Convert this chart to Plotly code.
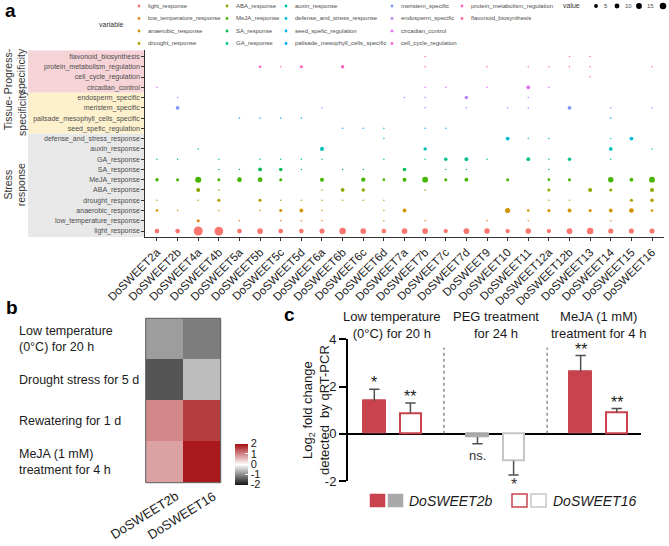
import math
import plotly.graph_objects as go

W, H = 669, 546
def px_x(p): return p / W
def px_y(p): return 1 - p / H

FONT = "Liberation Sans, Arial, Helvetica, sans-serif"

# ---------------- panel a data ----------------
genes = ["DoSWEET2a", "DoSWEET2b", "DoSWEET4a", "DoSWEET4b", "DoSWEET5a", "DoSWEET5b",
         "DoSWEET5c", "DoSWEET5d", "DoSWEET6a", "DoSWEET6b", "DoSWEET6c", "DoSWEET6d",
         "DoSWEET7a", "DoSWEET7b", "DoSWEET7c", "DoSWEET7d", "DoSWEET9", "DoSWEET10",
         "DoSWEET11", "DoSWEET12a", "DoSWEET12b", "DoSWEET13", "DoSWEET14", "DoSWEET15",
         "DoSWEET16"]

variables = ["light_response", "low_temperature_response", "anaerobic_response",
             "drought_response", "ABA_response", "MeJA_response", "SA_response",
             "GA_response", "auxin_response", "defense_and_stress_response",
             "seed_spefic_regulation", "palisade_mesophyll_cells_specific",
             "meristem_specific", "endosperm_specific", "circadian_control",
             "cell_cycle_regulation", "protein_metabolism_regulation",
             "flavonoid_biosynthesis"]

light_response =                    [9, 9, 44, 42, 9, 15, 9, 9, 11, 20, 15, 9, 15, 15, 7, 15, 13, 7, 13, 7, 15, 20, 11, 11, 11]
low_temperature_response =          [0, 0, 3, 0, 1, 0, 1, 1, 1, 0, 0, 1, 0, 1, 0, 0, 1, 0, 1, 0, 0, 0, 1, 0, 0]
anaerobic_response =                [2, 1, 0, 1, 0, 1, 3, 5, 1, 0, 0, 1, 5, 0, 0, 0, 0, 11, 2, 3, 5, 3, 5, 9, 2]
drought_response =                  [1, 0, 1, 3, 0, 3, 1, 1, 1, 1, 1, 1, 0, 0, 0, 0, 0, 0, 0, 1, 1, 0, 0, 3, 4]
ABA_response =                      [0, 0, 6, 1, 0, 0, 0, 0, 1, 5, 4, 0, 0, 1, 0, 0, 0, 0, 0, 3, 0, 6, 3, 0, 6]
MeJA_response =                     [4, 3, 17, 3, 9, 9, 3, 0, 6, 0, 7, 2, 6, 15, 3, 5, 0, 3, 0, 2, 3, 0, 13, 5, 15]
SA_response =                       [0, 0, 0, 1, 1, 5, 4, 1, 0, 1, 1, 0, 4, 0, 1, 1, 0, 0, 0, 1, 0, 0, 0, 0, 0]
GA_response =                       [1, 1, 0, 1, 0, 1, 1, 1, 1, 0, 0, 1, 0, 1, 4, 5, 1, 0, 5, 1, 4, 0, 1, 0, 0]
auxin_response =                    [0, 0, 1, 0, 0, 0, 0, 0, 6, 0, 0, 0, 0, 4, 0, 0, 0, 0, 0, 0, 0, 0, 5, 0, 1]
defense_and_stress_response =       [0, 0, 0, 0, 0, 0, 0, 0, 0, 0, 0, 1, 0, 0, 0, 0, 0, 5, 1, 1, 0, 0, 1, 5, 0]
seed_spefic_regulation =            [0, 0, 0, 0, 0, 0, 0, 0, 0, 1, 1, 1, 0, 1, 1, 0, 0, 0, 0, 0, 0, 0, 0, 0, 0]
palisade_mesophyll_cells_specific = [0, 0, 0, 0, 1, 1, 1, 1, 0, 0, 0, 0, 0, 0, 0, 0, 0, 0, 0, 0, 0, 0, 1, 0, 0]
meristem_specific =                 [0, 5, 0, 0, 0, 0, 0, 0, 1, 0, 0, 0, 0, 1, 0, 1, 0, 1, 1, 0, 5, 0, 1, 0, 1]
endosperm_specific =                [0, 1, 0, 0, 0, 0, 0, 0, 0, 0, 0, 0, 1, 1, 0, 4, 0, 0, 1, 0, 0, 0, 0, 0, 0]
circadian_control =                 [1, 0, 0, 0, 0, 0, 0, 0, 0, 0, 0, 0, 0, 1, 1, 0, 1, 0, 5, 1, 0, 0, 0, 0, 0]
cell_cycle_regulation =             [0, 0, 0, 0, 0, 0, 0, 0, 0, 0, 0, 0, 0, 0, 0, 0, 0, 0, 0, 0, 0, 1, 0, 0, 0]
protein_metabolism_regulation =     [0, 0, 0, 0, 0, 2, 1, 3, 0, 4, 0, 0, 0, 1, 0, 0, 1, 0, 1, 1, 1, 1, 0, 0, 1]
flavonoid_biosynthesis =            [0, 0, 0, 0, 0, 0, 0, 0, 0, 0, 0, 0, 0, 1, 0, 0, 0, 0, 0, 0, 1, 1, 0, 0, 0]

var_values = [light_response, low_temperature_response, anaerobic_response, drought_response,
              ABA_response, MeJA_response, SA_response, GA_response, auxin_response,
              defense_and_stress_response, seed_spefic_regulation,
              palisade_mesophyll_cells_specific, meristem_specific, endosperm_specific,
              circadian_control, cell_cycle_regulation, protein_metabolism_regulation,
              flavonoid_biosynthesis]

var_colors = ["#F8766D", "#E7851E", "#D09400", "#B2A100", "#8AAB00", "#45B500", "#00BC51",
              "#00C08E", "#00C0B8", "#00BCD8", "#00B4EF", "#00A5FF", "#7F96FF", "#BC81FF",
              "#E26EF7", "#F863DF", "#FF62BF", "#FF6A9A"]

category_groups = ["Stress<br>response", "Tissue-<br>specificity", "Progress-<br>specificity"]
category_group_sizes = [10, 4, 4]
category_group_colors = ["#e8e8e8", "#fdf1cd", "#f5d3d7"]

size_legend_values = [5, 10, 15, 20]

# ---------------- panel b data ----------------
heat_genes = ["DoSWEET2b", "DoSWEET16"]
heat_conditions = ["Low temperature<br>(0°C) for 20 h", "Drought stress for 5 d",
                   "Rewatering for 1 d", "MeJA (1 mM)<br>treatment for 4 h"]
heat_z = [[-0.83, -1.11],
          [-1.45, -0.56],
          [1.00, 1.62],
          [0.78, 1.92]]
heat_ticks = [-2, -1, 0, 1, 2]

# ---------------- panel c data ----------------
bar_treatments = ["Low temperature<br>(0°C) for 20 h", "PEG treatment<br>for 24 h",
                  "MeJA (1 mM)<br>treatment for 4 h"]
fc_2b = [1.40, -0.14, 2.64]
err_2b = [0.48, 0.28, 0.67]
sig_2b = ["*", "ns.", "**"]
fc_16 = [0.86, -1.14, 0.90]
err_16 = [0.44, 0.61, 0.17]
sig_16 = ["**", "*", "**"]
bar_yticks = [-2, 0, 2, 4]

RED = "#c8434e"
GREY_FILL = "#a9a9a9"
GREY_LINE = "#c6c6c6"

fig = go.Figure()

# ---------------- panel a: bubble plot ----------------
allv = [v for vals in var_values for v in vals if v > 0]
vmin, vmax = min(allv), max(allv)
def dia(v):
    return 1.5 * (1 + 5 * math.sqrt((v - vmin) / (vmax - vmin)))

for name, vals, col in zip(variables, var_values, var_colors):
    xs = [g for g, v in zip(genes, vals) if v > 0]
    ss = [dia(v) for v in vals if v > 0]
    fig.add_trace(go.Scatter(x=xs, y=[name] * len(xs), mode="markers",
                             marker=dict(size=ss, color=col, line=dict(width=0), opacity=1),
                             xaxis="x", yaxis="y", hoverinfo="skip", showlegend=False))

shapes = []
annotations = []

# category bands behind y labels
lo = -0.6
for k, (label, n, colr) in enumerate(zip(category_groups, category_group_sizes,
                                         category_group_colors)):
    hi = (lo + 0.1 + n) if k == 0 else lo + n
    if k == len(category_groups) - 1:
        hi = len(variables) - 0.4
    shapes.append(dict(type="rect", xref="paper", yref="y", x0=px_x(28), x1=px_x(144.6),
                       y0=lo, y1=hi, fillcolor=colr, line=dict(width=0), layer="below"))
    annotations.append(dict(text=label, xref="paper", yref="y", x=px_x(15), y=(lo + hi) / 2,
                            textangle=-90, showarrow=False, xanchor="center", yanchor="middle",
                            font=dict(size=10.5, color="#333333", family=FONT)))
    lo = hi

# top legend ("variable")
annotations.append(dict(text="variable", xref="paper", yref="paper", x=px_x(97), y=px_y(25),
                        xanchor="left", yanchor="middle", showarrow=False,
                        font=dict(size=7, color="#333333", family=FONT)))
leg_col_x = [139, 227, 286, 392, 462]
leg_row_y = [6, 18.5, 31, 43.5]
for i, (name, col) in enumerate(zip(variables, var_colors)):
    cx, ry = leg_col_x[i // 4], leg_row_y[i % 4]
    shapes.append(dict(type="circle", xref="paper", yref="paper", xsizemode="pixel",
                       ysizemode="pixel", xanchor=px_x(cx), yanchor=px_y(ry),
                       x0=-1.4, x1=1.4, y0=-1.4, y1=1.4, fillcolor=col, line=dict(width=0)))
    annotations.append(dict(text=name, xref="paper", yref="paper", x=px_x(cx + 7), y=px_y(ry),
                            xanchor="left", yanchor="middle", showarrow=False,
                            font=dict(size=6, color="#4d4d4d", family=FONT)))
annotations.append(dict(text="value", xref="paper", yref="paper", x=px_x(561), y=px_y(6),
                        xanchor="left", yanchor="middle", showarrow=False,
                        font=dict(size=7, color="#333333", family=FONT)))
size_leg_x = [596, 617, 639, 663]
for sv, sx in zip(size_legend_values, size_leg_x):
    r = dia(sv) / 2
    shapes.append(dict(type="circle", xref="paper", yref="paper", xsizemode="pixel",
                       ysizemode="pixel", xanchor=px_x(sx), yanchor=px_y(6),
                       x0=-r, x1=r, y0=-r, y1=r, fillcolor="black", line=dict(width=0)))
    if sx + 8 < W:
        annotations.append(dict(text=str(sv), xref="paper", yref="paper", x=px_x(sx + 6),
                                y=px_y(6), xanchor="left", yanchor="middle", showarrow=False,
                                font=dict(size=6, color="#4d4d4d", family=FONT)))

# ---------------- panel b: heatmap ----------------
fig.add_trace(go.Heatmap(z=heat_z, x=heat_genes, y=heat_conditions, xaxis="x2", yaxis="y2",
                         zmin=-2, zmax=2,
                         colorscale=[[0, "#141414"], [0.5, "#ffffff"], [1, "#a50f12"]],
                         hoverinfo="skip",
                         colorbar=dict(x=px_x(235), xanchor="left", y=px_y(464),
                                       yanchor="middle", len=41, lenmode="pixels",
                                       thickness=13, xpad=0, ypad=0, outlinewidth=0,
                                       tickvals=heat_ticks,
                                       ticktext=[str(t) for t in heat_ticks],
                                       ticks="inside", ticklen=3, tickcolor="white",
                                       tickfont=dict(size=11, color="#1a1a1a", family=FONT))))
shapes.append(dict(type="rect", xref="paper", yref="paper", x0=px_x(145.7), x1=px_x(220.7),
                   y0=px_y(482.7), y1=px_y(318.3), line=dict(color="#555555", width=1)))
for cond in heat_conditions:
    annotations.append(dict(text=cond, xref="paper", yref="y2", x=px_x(17), y=cond,
                            xanchor="left", yanchor="middle", align="left", showarrow=False,
                            font=dict(size=12.5, color="#1a1a1a", family=FONT)))
for gi, g in enumerate(heat_genes):
    annotations.append(dict(text=g, xref="x2", yref="paper", x=gi, y=px_y(486),
                            xanchor="right", yanchor="top", xshift=19, textangle=-32,
                            showarrow=False, font=dict(size=13, color="#1a1a1a", family=FONT)))

# ---------------- panel c: bar chart ----------------
OFF, BW = 0.175, 0.22
xi = list(range(len(bar_treatments)))
x2b = [i - OFF for i in xi]
x16 = [i + OFF for i in xi]
is_peg = [t.startswith("PEG") for t in bar_treatments]
fill_2b = [GREY_FILL if p else RED for p in is_peg]
line_16 = [GREY_LINE if p else RED for p in is_peg]

fig.add_trace(go.Bar(x=x2b, y=fc_2b, width=BW, xaxis="x3", yaxis="y3",
                     marker=dict(color=fill_2b, line=dict(color=fill_2b, width=1)),
                     hoverinfo="skip", showlegend=False))
fig.add_trace(go.Bar(x=x16, y=fc_16, width=BW - 0.015, xaxis="x3", yaxis="y3",
                     marker=dict(color="white", line=dict(color=line_16, width=2)),
                     hoverinfo="skip", showlegend=False))

# one-sided error bars
CAP = 0.05
ex, ey = [], []
for xs, vs, es in ((x2b, fc_2b, err_2b), (x16, fc_16, err_16)):
    for x, v, e in zip(xs, vs, es):
        end = v + e if v >= 0 else v - e
        ex += [x, x, None, x - CAP, x + CAP, None]
        ey += [v, end, None, end, end, None]
fig.add_trace(go.Scatter(x=ex, y=ey, mode="lines", line=dict(color="#505050", width=1.5),
                         xaxis="x3", yaxis="y3", hoverinfo="skip", showlegend=False,
                         cliponaxis=False))

for xs, vs, es, ss in ((x2b, fc_2b, err_2b, sig_2b), (x16, fc_16, err_16, sig_16)):
    for x, v, e, s in zip(xs, vs, es, ss):
        if v >= 0:
            annotations.append(dict(text=s, xref="x3", yref="y3", x=x, y=v + e,
                                    yanchor="bottom", yshift=-4, showarrow=False,
                                    font=dict(size=16, color="#1a1a1a", family=FONT)))
        else:
            star = s.startswith("*")
            annotations.append(dict(text=s, xref="x3", yref="y3", x=x, y=v - e,
                                    yanchor="top", yshift=1 if star else -2, showarrow=False,
                                    font=dict(size=16 if star else 13, color="#333333",
                                              family=FONT)))

for i in xi[:-1]:
    shapes.append(dict(type="line", xref="x3", yref="y3", x0=i + 0.5, x1=i + 0.5,
                       y0=0, y1=3.65, line=dict(color="#555555", width=1, dash="dot")))
for i, t in zip(xi, bar_treatments):
    annotations.append(dict(text=t, xref="x3", yref="paper", x=i, y=px_y(325),
                            xanchor="center", yanchor="middle", showarrow=False,
                            font=dict(size=13, color="#1a1a1a", family=FONT)))
annotations.append(dict(text="Log<sub>2</sub> fold change<br>detected  by qRT-PCR",
                        xref="paper", yref="paper", x=px_x(316), y=px_y(410), textangle=-90,
                        showarrow=False, xanchor="center", yanchor="middle",
                        font=dict(size=13, color="#1a1a1a", family=FONT)))

# panel c legend
for x0, fc, lc in ((370, RED, RED), (388, GREY_FILL, GREY_FILL),
                   (512, "white", RED), (531, "white", GREY_LINE)):
    shapes.append(dict(type="rect", xref="paper", yref="paper", x0=px_x(x0), x1=px_x(x0 + 15),
                       y0=px_y(507), y1=px_y(494), fillcolor=fc,
                       line=dict(color=lc, width=1.5 if fc == "white" else 0.5)))
annotations.append(dict(text="<i>DoSWEET2b</i>", xref="paper", yref="paper", x=px_x(407),
                        y=px_y(500.5), xanchor="left", yanchor="middle", showarrow=False,
                        font=dict(size=14, color="#1a1a1a", family=FONT)))
annotations.append(dict(text="<i>DoSWEET16</i>", xref="paper", yref="paper", x=px_x(551),
                        y=px_y(500.5), xanchor="left", yanchor="middle", showarrow=False,
                        font=dict(size=14, color="#1a1a1a", family=FONT)))

# panel letters
for letter, lx, ly in (("a", 3, 10), ("b", 4, 307), ("c", 282, 314)):
    annotations.append(dict(text="<b>" + letter + "</b>", xref="paper", yref="paper",
                            x=px_x(lx), y=px_y(ly), xanchor="left", yanchor="middle",
                            showarrow=False, font=dict(size=19, color="black", family=FONT)))

fig.update_layout(
    width=W, height=H, margin=dict(l=0, r=0, t=0, b=0, autoexpand=False),
    paper_bgcolor="white", plot_bgcolor="rgba(0,0,0,0)",
    font=dict(family=FONT), showlegend=False, hovermode=False, bargap=0,
    xaxis=dict(domain=[px_x(144.6), px_x(664.4)], anchor="y", type="category",
               categoryorder="array", categoryarray=genes, range=[-0.6, len(genes) - 0.4],
               showline=True, linecolor="#333333", linewidth=0.8, ticks="outside",
               ticklen=3, tickwidth=0.8, tickcolor="#333333", tickangle=-45,
               tickfont=dict(size=11.5, color="#1a1a1a", family=FONT), showgrid=False,
               zeroline=False, automargin=False),
    yaxis=dict(domain=[px_y(237.2), px_y(50.3)], anchor="x", type="category",
               categoryorder="array", categoryarray=variables,
               range=[-0.6, len(variables) - 0.4], showline=True, linecolor="#333333",
               linewidth=0.8, ticks="outside", ticklen=2.5, tickwidth=0.8,
               tickcolor="#333333", tickfont=dict(size=7, color="#4d4d4d", family=FONT),
               showgrid=False, zeroline=False, automargin=False),
    xaxis2=dict(domain=[px_x(145.7), px_x(220.7)], anchor="y2", type="category",
                range=[-0.5, len(heat_genes) - 0.5],
                showline=False, ticks="", showticklabels=False, showgrid=False,
                zeroline=False, automargin=False),
    yaxis2=dict(domain=[px_y(482.7), px_y(318.3)], anchor="x2", type="category",
                autorange="reversed", showticklabels=False, ticks="", showline=False,
                showgrid=False, zeroline=False, automargin=False),
    xaxis3=dict(domain=[px_x(348), px_x(641)], anchor="y3", range=[-0.43, 2.41],
                visible=False, automargin=False),
    yaxis3=dict(domain=[px_y(481), px_y(339.3)], anchor="x3", range=[-2, 4],
                tickvals=bar_yticks, ticktext=[str(t) for t in bar_yticks],
                showline=True, linecolor="black", linewidth=2,
                ticks="outside", ticklen=7, tickwidth=2, tickcolor="black",
                tickfont=dict(size=13, color="#1a1a1a", family=FONT), showgrid=False,
                zeroline=True, zerolinecolor="black", zerolinewidth=2, automargin=False),
    shapes=shapes, annotations=annotations,
)

fig.write_html("out.html", config={"displayModeBar": False},
               post_script="document.body.style.margin='0';document.body.style.overflow='hidden';")
